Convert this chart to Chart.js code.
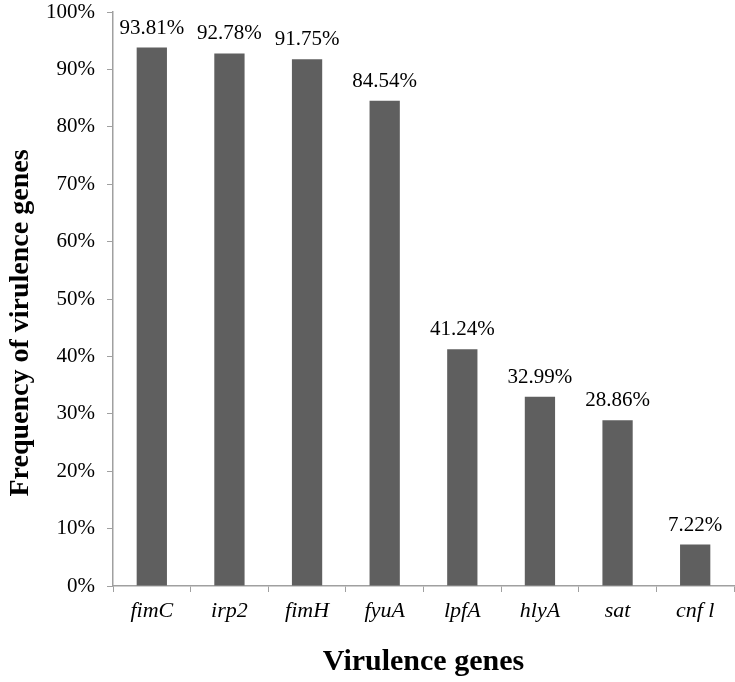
<!DOCTYPE html>
<html>
<head>
<meta charset="utf-8">
<script src="https://cdn.jsdelivr.net/npm/chart.js@4/dist/chart.umd.min.js"></script>
<style>
  html, body { margin: 0; padding: 0; background: #fff; }
  #wrap { width: 735px; height: 682px; }
</style>
</head>
<body>
<div id="wrap"><canvas id="c" width="735" height="682"></canvas></div>
<script>
const categories = ['fimC', 'irp2', 'fimH', 'fyuA', 'lpfA', 'hlyA', 'sat', 'cnf l'];
const frequencies = [93.81, 92.78, 91.75, 84.54, 41.24, 32.99, 28.86, 7.22];
const yTicks = [0, 10, 20, 30, 40, 50, 60, 70, 80, 90, 100];
const yTitle = 'Frequency of virulence genes';
const xTitle = 'Virulence genes';

const serif = "'Liberation Serif', 'Times New Roman', serif";

const valueLabels = {
  id: 'valueLabels',
  afterDatasetsDraw(chart) {
    const ctx = chart.ctx;
    const meta = chart.getDatasetMeta(0);
    ctx.save();
    ctx.font = "21px " + serif;
    ctx.fillStyle = '#000';
    ctx.textAlign = 'center';
    ctx.textBaseline = 'alphabetic';
    meta.data.forEach((bar, i) => {
      ctx.fillText(frequencies[i].toFixed(2) + '%', bar.x, bar.y - 14);
    });
    ctx.restore();
  }
};

const yTitlePlugin = {
  id: 'yTitlePlugin',
  afterDraw(chart) {
    const ctx = chart.ctx;
    ctx.save();
    ctx.translate(21, 323);
    ctx.rotate(-Math.PI / 2);
    ctx.font = "bold 28px " + serif;
    ctx.fillStyle = '#000';
    ctx.textAlign = 'center';
    ctx.textBaseline = 'middle';
    ctx.fillText(yTitle, 0, 0);
    ctx.restore();
  }
};

new Chart(document.getElementById('c'), {
  type: 'bar',
  data: {
    labels: categories,
    datasets: [{
      data: frequencies,
      backgroundColor: '#5f5f5f',
      borderWidth: 0,
      barPercentage: 0.39,
      categoryPercentage: 1.0
    }]
  },
  options: {
    responsive: false,
    animation: false,
    devicePixelRatio: 1,
    layout: { padding: { top: 12, right: 1, left: 0, bottom: 0 } },
    plugins: { legend: { display: false }, tooltip: { enabled: false } },
    scales: {
      x: {
        afterFit(axis) { axis.height = 96; axis.paddingLeft = 0; axis.paddingRight = 0; },
        grid: { display: true, drawOnChartArea: false, drawTicks: true, tickLength: 6, color: '#a0a0a0', offset: true },
        border: { color: '#a0a0a0', width: 1.5 },
        ticks: { color: '#000', font: { family: serif, size: 22, style: 'italic' }, padding: 6, maxRotation: 0 },
        title: { display: true, text: xTitle, color: '#000', font: { family: serif, size: 30, weight: 'bold' }, padding: { top: 0, bottom: 2 } }
      },
      y: {
        min: 0, max: 100,
        afterFit(axis) { axis.width = 113; axis.paddingTop = 0; axis.paddingBottom = 0; },
        afterBuildTicks(axis) { axis.ticks = yTicks.map(v => ({ value: v })); },
        grid: { display: true, drawOnChartArea: false, drawTicks: true, tickLength: 6, color: '#a0a0a0' },
        border: { color: '#a0a0a0', width: 1.5 },
        ticks: { color: '#000', font: { family: serif, size: 21 }, padding: 12, callback: v => v + '%' },
        title: { display: false }
      }
    }
  },
  plugins: [valueLabels, yTitlePlugin]
});
</script>
</body>
</html>
